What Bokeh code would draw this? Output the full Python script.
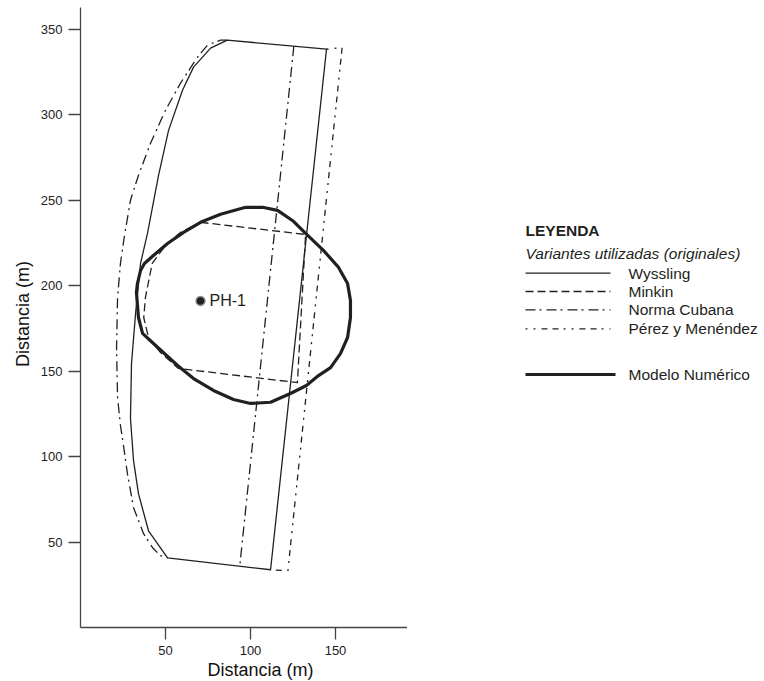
from bokeh.plotting import figure
from bokeh.layouts import row
from bokeh.models import Range1d, FixedTicker, Title
from bokeh.core.properties import value
from bokeh.embed import file_html
from bokeh.resources import INLINE

# --- Contours of the capture zone (distances in metres) ---
# Wyssling: closed outline
wyssling_x = [86.3, 76.5, 66.5, 60.0, 51.8, 45.9, 39.4, 35.3, 32.4, 30.0, 29.4, 31.2,
              34.1, 40.0, 51.2, 111.8, 144.7, 86.3]
wyssling_y = [343.7, 339.0, 327.9, 314.4, 290.9, 264.6, 230.6, 213.0, 183.8, 154.5, 122.3, 97.7,
              78.3, 56.6, 40.8, 33.8, 338.4, 343.7]

# Norma Cubana: outer upstream curve and downstream limit
norma_left_x = [86.3, 82.4, 74.7, 68.8, 58.8, 50.0, 41.2, 34.1, 29.4, 25.9, 23.5, 21.8,
                21.2, 21.8, 23.5, 25.3, 27.6, 31.2, 37.1, 42.4, 47.1, 51.2]
norma_left_y = [343.7, 343.7, 340.8, 333.7, 318.5, 302.7, 283.4, 264.6, 250.0, 229.5, 213.1, 193.1,
                163.9, 134.6, 118.2, 106.4, 90.0, 70.1, 54.9, 46.7, 42.0, 40.8]
norma_right_x = [125.5, 93.7]
norma_right_y = [340.2, 36.1]

# Pérez y Menéndez: downstream limit
perez_x = [144.7, 153.9, 122.0, 111.8]
perez_y = [338.4, 339.4, 33.2, 33.8]

# Minkin: closed outline
minkin_x = [70.6, 132.4, 127.6, 57.6, 47.1, 40.0, 37.2, 38.2, 42.2, 50.0, 58.8, 70.6]
minkin_y = [237.1, 230.0, 143.3, 151.6, 160.9, 169.7, 181.4, 193.2, 213.1, 223.6, 231.2, 237.1]

# Modelo Numérico: closed outline
modelo_x = [97.1, 107.1, 115.9, 125.3, 132.4, 142.9, 151.8, 157.1, 158.8, 158.8, 157.1, 152.9,
            147.1, 140.0, 132.9, 123.5, 111.8, 100.0, 90.0, 78.2, 66.5, 57.1, 42.9, 36.5,
            34.1, 32.9, 33.5, 35.3, 37.6, 42.9, 51.2, 60.6, 70.6, 82.4, 97.1]
modelo_y = [245.9, 245.9, 244.1, 237.7, 230.6, 220.7, 210.7, 201.3, 191.4, 181.4, 169.7, 160.3,
            152.1, 147.4, 141.6, 136.9, 131.8, 131.1, 133.4, 138.7, 145.7, 153.3, 166.2, 172.1,
            181.4, 196.1, 201.3, 208.9, 213.0, 217.7, 224.7, 231.2, 237.1, 241.8, 245.9]

# Pumping well
well_x = [70.6]
well_y = [191.1]
well_name = ["PH-1"]

x_ticks = [50, 100, 150]
y_ticks = [50, 100, 150, 200, 250, 300, 350]

legend_names = ["Wyssling", "Minkin", "Norma Cubana", "Pérez y Menéndez", "Modelo Numérico"]

FONT = value("Liberation Sans")
INK = "#231f20"

DASH_MINKIN = "8 4"
DASH_NORMA = "10 4 2 5"
DASH_PEREZ = "2 6 2 6 6 5 6 5"

# ---------------- map panel ----------------
p = figure(width=407, height=681, output_backend="svg", toolbar_location=None,
           x_range=Range1d(0, 192.35), y_range=Range1d(0, 366.9),
           min_border_left=80, min_border_right=0, min_border_top=0, min_border_bottom=54)
p.outline_line_color = None
p.grid.visible = False

for ax, ticks in ((p.xaxis, x_ticks), (p.yaxis, y_ticks)):
    ax.ticker = FixedTicker(ticks=ticks)
    ax.major_tick_out = 12
    ax.major_tick_in = 0
    ax.minor_tick_out = 0
    ax.minor_tick_in = 0
    ax.axis_line_color = "#444444"
    ax.axis_line_width = 1.3
    ax.major_tick_line_color = "#444444"
    ax.major_tick_line_width = 1.3
    ax.major_label_standoff = 6
    ax.major_label_text_font = "Liberation Sans"
    ax.major_label_text_font_size = "13px"
    ax.major_label_text_color = "#222222"
p.yaxis.bounds = (0, 363)
p.yaxis.axis_label = "Distancia (m)"
p.yaxis.axis_label_text_font = "Liberation Sans"
p.yaxis.axis_label_text_font_size = "18px"
p.yaxis.axis_label_text_font_style = "normal"
p.yaxis.axis_label_text_color = "#111111"
p.yaxis.axis_label_standoff = 5

# x-axis title below the tick labels, set a little right of the frame centre
p.add_layout(Title(text="Distancia (m)", align="left", offset=127, standoff=0,
                   text_font="Liberation Sans", text_font_size="18px",
                   text_font_style="normal", text_color="#111111"), "below")

thin = dict(line_color=INK, line_width=1.3, line_join="round")
p.line(wyssling_x, wyssling_y, **thin)
p.line(norma_left_x, norma_left_y, line_dash=DASH_NORMA, **thin)
p.line(norma_right_x, norma_right_y, line_dash=DASH_NORMA, **thin)
p.line(perez_x, perez_y, line_dash=DASH_PEREZ, **thin)
p.line(minkin_x, minkin_y, line_dash=DASH_MINKIN, **thin)
p.line(modelo_x, modelo_y, line_color=INK, line_width=3.2, line_join="round")

p.scatter(well_x, well_y, size=9, fill_color=INK, line_color="#8c8c8c", line_width=1.4)
p.text(well_x, well_y, text=well_name, x_offset=9, text_baseline="middle",
       text_font=FONT, text_font_size="16px", text_color=INK)

# ---------------- legend panel (pixel coordinates, y downward) ----------------
# the row aligns this frame with the map frame (627 px tall)
lg = figure(width=357, height=681, output_backend="svg", toolbar_location=None,
            x_range=Range1d(407, 764), y_range=Range1d(627, 0),
            x_axis_location=None, y_axis_location=None,
            min_border_left=0, min_border_right=0, min_border_top=0, min_border_bottom=0)
lg.outline_line_color = None
lg.grid.visible = False

LX0, LX1, LTX = 525, 610, 628
lg.text([LX0], [229.5], text=["LEYENDA"], text_baseline="middle", text_font=FONT,
        text_font_size="15.5px", text_font_style="bold", text_color=INK)
lg.text([LX0], [253], text=["Variantes utilizadas (originales)"], text_baseline="middle",
        text_font=FONT, text_font_size="15.5px", text_font_style="italic", text_color=INK)

rows_y = [272.7, 291, 309.3, 328.3, 374]
dashes = ["solid", DASH_MINKIN, DASH_NORMA, DASH_PEREZ, "solid"]
widths = [1.3, 1.3, 1.3, 1.3, 3.2]
ends = [LX1, LX1, LX1, LX1, 615]
for name, ly, dash, lw, x_end in zip(legend_names, rows_y, dashes, widths, ends):
    lg.line([LX0, x_end], [ly, ly], line_color=INK, line_width=lw, line_dash=dash)
    lg.text([LTX], [ly], text=[name], text_baseline="middle", text_font=FONT,
            text_font_size="15.5px", text_color=INK)

open("out.html", "w").write(file_html(row(p, lg), INLINE))
